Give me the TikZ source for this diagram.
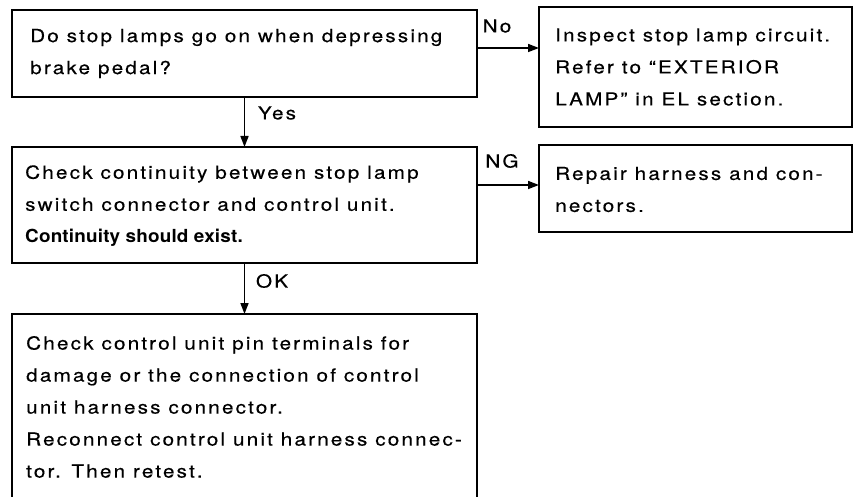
\documentclass[tikz,border=0pt]{standalone}
\usepackage{fontspec}
\setmainfont{TeX Gyre Heros}[LetterSpace=12, FakeStretch=1.15, FakeBold=0.4,
  BoldFeatures={LetterSpace=1, FakeStretch=1.05, FakeBold=0.0}]
\usetikzlibrary{arrows.meta}
\begin{document}
\begin{tikzpicture}[x=1pt,y=-1pt,
  box/.style={draw, line width=1.6pt, rectangle, anchor=north west, inner sep=0pt, outer sep=0pt},
  txt/.style={anchor=west, align=left, inner sep=0pt, font=\fontsize{18}{32}\selectfont},
  lab/.style={inner sep=0pt, font=\fontsize{18}{22}\selectfont},
  arr/.style={line width=1.6pt, -{Triangle[length=11pt,width=8pt]}}]
\useasboundingbox (0,0) rectangle (854,497);
\clip (0,0) rectangle (854,497);
% boxes
\node[box, minimum width=465, minimum height=87] (b1) at (12,10) {};
\node[box, minimum width=313, minimum height=120] (b2) at (539,7) {};
\node[box, minimum width=465, minimum height=116] (b3) at (12,147) {};
\node[box, minimum width=313, minimum height=87] (b4) at (539,145) {};
\node[box, draw=none, minimum width=465, minimum height=186] (b5) at (12,314) {};
\draw[line width=1.6pt] (b5.south west) -- (b5.north west) -- (b5.north east) -- (b5.south east);
% texts
\node[txt] (t1) at ([xshift=18]b1.west) {Do stop lamps go on when depressing\\brake pedal?};
\node[txt] (t2) at ([xshift=16]b2.west) {Inspect stop lamp circuit.\\Refer to ``EXTERIOR\\LAMP'' in EL section.};
\node[txt] (t3) at ([xshift=13,yshift=-1]b3.west) {Check continuity between stop lamp\\switch connector and control unit.\\\textbf{Continuity should exist.}};
\node[txt] (t4) at ([xshift=16,yshift=-1]b4.west) {Repair harness and con-\\nectors.};
\node[txt] (t5) at ([xshift=14]b5.west) {Check control unit pin terminals for\\damage or the connection of control\\unit harness connector.\\Reconnect control unit harness connec-\\tor. Then retest.};
% connectors
\path (b1.north east) ++(0,38) coordinate (n1);
\path (b3.north east) ++(0,38) coordinate (n3);
\draw[arr] (b1.south) -- (b3.north);
\draw[arr] (b3.south) -- (b5.north);
\draw[arr] (n1) -- (n1 -| b2.west);
\draw[arr] (n3) -- (n3 -| b4.west);
% labels
\node[lab] (yes) at (277,113) {Yes};
\node[lab] (ok) at (272,281) {OK};
\node[lab] (no) at (497,26) {No};
\node[lab] (ng) at (502,161) {NG};
\end{tikzpicture}
\end{document}
